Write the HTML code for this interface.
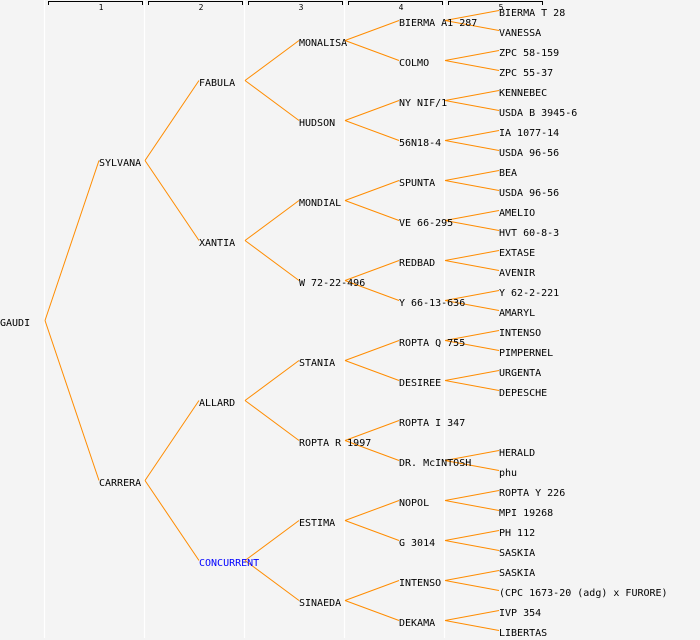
<!DOCTYPE html>
<html><head><meta charset="utf-8"><style>
html,body{margin:0;padding:0;background:#f4f4f4}
svg{display:block}
text{font-family:"DejaVu Sans Mono","Liberation Mono",monospace;font-size:10px;fill:#000}
</style></head><body>
<svg width="700" height="640" viewBox="0 0 700 640" xmlns="http://www.w3.org/2000/svg">
<rect width="700" height="640" fill="#f4f4f4"/>
<g stroke="#fff" stroke-width="1.2">
<line x1="44.5" y1="0" x2="44.5" y2="638"/><line x1="144.5" y1="0" x2="144.5" y2="638"/><line x1="244.5" y1="0" x2="244.5" y2="638"/><line x1="344.5" y1="0" x2="344.5" y2="638"/><line x1="444.5" y1="0" x2="444.5" y2="638"/>
</g>
<g stroke="#000" stroke-width="1" fill="none">
<polyline points="48.5,5 48.5,1.5 142.5,1.5 142.5,5"/>
<polyline points="148.5,5 148.5,1.5 242.5,1.5 242.5,5"/>
<polyline points="248.5,5 248.5,1.5 342.5,1.5 342.5,5"/>
<polyline points="348.5,5 348.5,1.5 442.5,1.5 442.5,5"/>
<polyline points="448.5,5 448.5,1.5 542.5,1.5 542.5,5"/>
</g>
<g style="font-size:8px" text-anchor="middle">
<text x="101" y="10" style="font-size:8px">1</text><text x="201" y="10" style="font-size:8px">2</text><text x="301" y="10" style="font-size:8px">3</text><text x="401" y="10" style="font-size:8px">4</text><text x="501" y="10" style="font-size:8px">5</text>
</g>
<g stroke="#ff8c00" stroke-width="1" fill="none" id="lines"></g>
<g id="labels"></g>
</svg>
<script>
var L=[
[0,"GAUDI",320],
[1,"SYLVANA",160,0],[1,"CARRERA",480,0],
[2,"FABULA",80,1],[2,"XANTIA",240,1],[2,"ALLARD",400,2],[2,"CONCURRENT",560,2],
[3,"MONALISA",40,3],[3,"HUDSON",120,3],[3,"MONDIAL",200,4],[3,"W 72-22-496",280,4],[3,"STANIA",360,5],[3,"ROPTA R 1997",440,5],[3,"ESTIMA",520,6],[3,"SINAEDA",600,6]
];
var l4=["BIERMA A1 287","COLMO","NY NIF/1","56N18-4","SPUNTA","VE 66-295","REDBAD","Y 66-13-636","ROPTA Q 755","DESIREE","ROPTA I 347","DR. McINTOSH","NOPOL","G 3014","INTENSO","DEKAMA"];
var l5=["BIERMA T 28","VANESSA","ZPC 58-159","ZPC 55-37","KENNEBEC","USDA B 3945-6","IA 1077-14","USDA 96-56","BEA","USDA 96-56","AMELIO","HVT 60-8-3","EXTASE","AVENIR","Y 62-2-221","AMARYL","INTENSO","PIMPERNEL","URGENTA","DEPESCHE","","","HERALD","phu","ROPTA Y 226","MPI 19268","PH 112","SASKIA","SASKIA","(CPC 1673-20 (adg) x FURORE)","IVP 354","LIBERTAS"];
var nodes=L.map(function(a){return {lv:a[0],t:a[1],y:a[2],p:a[3]}});
var base3=7;
l4.forEach(function(t,i){nodes.push({lv:4,t:t,y:20+40*i,p:base3+Math.floor(i/2)});});
var base4=15;
l5.forEach(function(t,i){if(t)nodes.push({lv:5,t:t,y:10+20*i,p:base4+Math.floor(i/2)});});
var NS="http://www.w3.org/2000/svg",lg=document.getElementById("lines"),tg=document.getElementById("labels");
nodes.forEach(function(n){
 var x=n.lv==0?0:100*n.lv-1;
 var t=document.createElementNS(NS,"text");t.setAttribute("x",x);t.setAttribute("y",n.y+6);
 if(n.t=="CONCURRENT")t.setAttribute("style","fill:#0000ff");
 t.textContent=n.t;tg.appendChild(t);
 if(n.p!==undefined){var p=nodes[n.p];var sx=45+100*p.lv;
  var ln=document.createElementNS(NS,"line");ln.setAttribute("x1",sx);ln.setAttribute("y1",p.y+0.5);ln.setAttribute("x2",x);ln.setAttribute("y2",n.y+0.5);lg.appendChild(ln);}
});
</script>
</body></html>
